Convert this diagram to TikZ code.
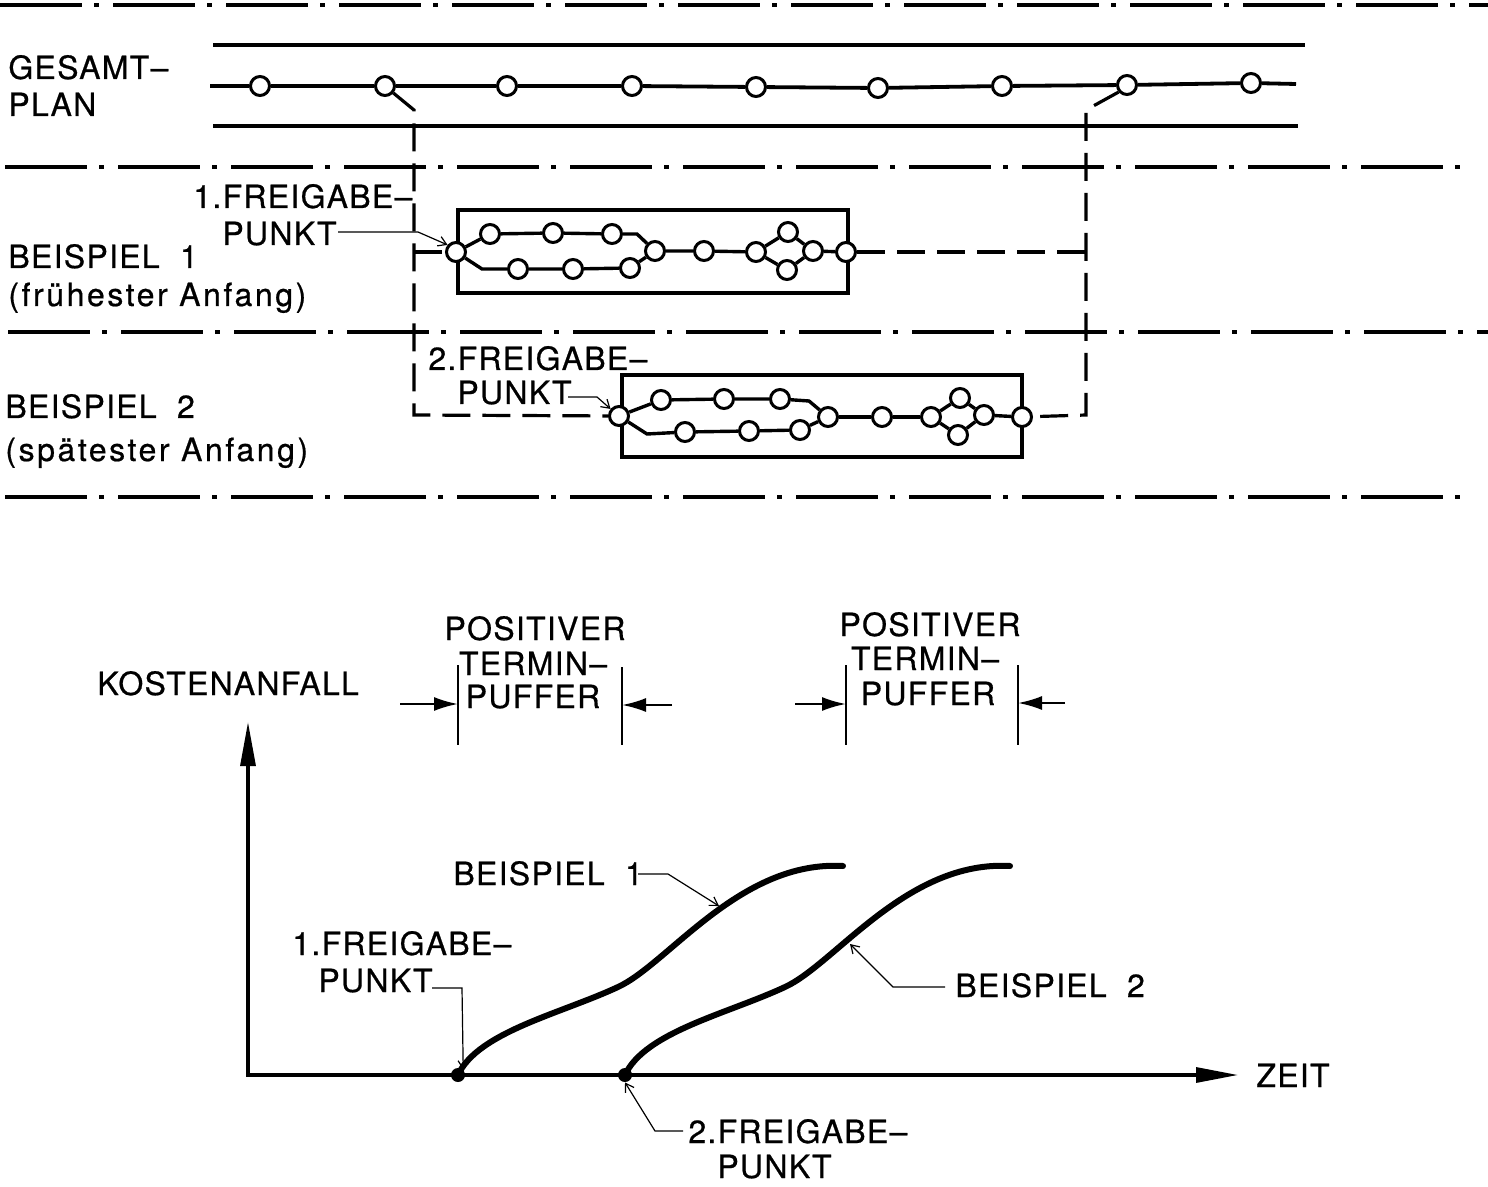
\documentclass[tikz,border=0pt]{standalone}
\usepackage{fontspec}
\setmainfont{TeX Gyre Heros}[LetterSpace=4,FakeBold=0.6]
\usetikzlibrary{arrows.meta}
\begin{document}
\begin{tikzpicture}[x=0.5pt,y=-0.5pt,
  sep/.style={line width=1.6pt, dash pattern=on 41pt off 6pt on 2.5pt off 7pt},
  pnode/.style={circle, draw, line width=1.5pt, fill=white, inner sep=0pt, minimum size=9.5pt},
  net/.style={line width=1.7pt},
  frame/.style={line width=1.8pt},
  conn/.style={line width=1.6pt, dash pattern=on 14pt off 6pt},
  leadarr/.style={line width=0.6pt, -{Straight Barb[length=4pt,width=5pt]}},
  lbl/.style={font=\fontsize{16pt}{19pt}\selectfont, inner sep=0pt, anchor=base west},
  wide/.style={font=\fontsize{16pt}{19pt}\selectfont\addfontfeatures{LetterSpace=8}},
  dot/.style={circle, fill, inner sep=0pt, minimum size=7pt},
  tick/.style={line width=0.7pt},
  parr/.style={line width=1.1pt, -{Latex[length=12pt,width=7pt]}},
  curve/.style={line width=3pt, line cap=round}
]
\useasboundingbox (0,0) rectangle (1488,1187);

% separator lines
\draw[sep] (0,5) -- (1488,5);
\draw[sep] (5,167) -- (1468,167);
\draw[sep] (8,332) -- (1488,332);
\draw[sep] (5,497) -- (1462,497);

% Gesamtplan
\draw[line width=2pt] (213,45) -- (1305,45);
\draw[line width=2pt] (213,126) -- (1298,126);
\coordinate (gL) at (210,86);
\coordinate (gR) at (1296,84);
\foreach \i/\x/\y in {1/260/86,2/385/86,3/507/86,4/632/86,5/756/87,6/878/88,7/1002/86,8/1127/85,9/1251/83}
  \node[pnode] (g\i) at (\x,\y) {};
\draw[net, line width=1.9pt] (gL) -- (g1) -- (g2) -- (g3) -- (g4) -- (g5) -- (g6) -- (g7) -- (g8) -- (g9) -- (gR);

\node[lbl] (tGes) at (8,79) {GESAMT–};
\node[lbl] (tPlan) at (8,116) {PLAN};

% Beispiel 1 network
\draw[frame] (458,210) rectangle (848,293);
\node[pnode] (a0) at (456,252) {};
\node[pnode] (a1) at (490,234) {};
\node[pnode] (a2) at (553,233) {};
\node[pnode] (a3) at (612,234) {};
\coordinate (ab1) at (637,234);
\coordinate (ab2) at (482,269);
\node[pnode] (a4) at (518,269) {};
\node[pnode] (a5) at (573,269) {};
\node[pnode] (a6) at (630,268) {};
\node[pnode] (am) at (655,251) {};
\node[pnode] (a7) at (704,251) {};
\node[pnode] (a8) at (756,252) {};
\node[pnode] (a9) at (788,232) {};
\node[pnode] (a10) at (787,270) {};
\node[pnode] (a11) at (813,251) {};
\node[pnode] (ae) at (846,252) {};
\draw[net] (a0) -- (a1) -- (a2) -- (a3) -- (ab1) -- (am);
\draw[net] (a0) -- (ab2) -- (a4) -- (a5) -- (a6) -- (am);
\draw[net] (am) -- (a7) -- (a8);
\draw[net] (a8) -- (a9) -- (a11);
\draw[net] (a8) -- (a10) -- (a11);
\draw[net] (a11) -- (ae);

% Beispiel 2 network
\draw[frame] (622,375) rectangle (1022,457);
\node[pnode] (b0) at (619,416) {};
\node[pnode] (b1) at (661,400) {};
\node[pnode] (b2) at (724,399) {};
\node[pnode] (b3) at (780,399) {};
\coordinate (bb1) at (809,401);
\coordinate (bb2) at (647,434);
\node[pnode] (b4) at (685,432) {};
\node[pnode] (b5) at (749,431) {};
\node[pnode] (b6) at (800,430) {};
\node[pnode] (bm) at (828,417) {};
\node[pnode] (b7) at (882,417) {};
\node[pnode] (b8) at (931,417) {};
\node[pnode] (b9) at (960,398) {};
\node[pnode] (b10) at (958,435) {};
\node[pnode] (b11) at (984,415) {};
\node[pnode] (be) at (1022,417) {};
\draw[net] (b0) -- (b1) -- (b2) -- (b3) -- (bb1) -- (bm);
\draw[net] (b0) -- (bb2) -- (b4) -- (b5) -- (b6) -- (bm);
\draw[net] (bm) -- (b7) -- (b8);
\draw[net] (b8) -- (b9) -- (b11);
\draw[net] (b8) -- (b10) -- (b11);
\draw[net] (b11) -- (be);

% dashed release connectors
\coordinate (cL1) at (414,110);
\coordinate (cL2) at (414,252);
\coordinate (cL3) at (414,415);
\coordinate (cR1) at (1086,110);
\coordinate (cR2) at (1086,252);
\coordinate (cR3) at (1086,415);
\draw[conn] (g2.-40) -- (cL1) -- (cL3) -- (b0);
\draw[conn] (cL2) -- (a0);
\draw[conn] (g8.-140) -- (cR1) -- (cR3) -- (be);
\draw[conn] (ae) -- (cR2);

% labels top part
\node[lbl] (tF1) at (193,208) {1.FREIGABE–};
\node[lbl] (tP1) at (222,245) {PUNKT};
\coordinate (l1a) at (338,232);
\coordinate (l1b) at (418,232);
\draw[leadarr] (l1a) -- (l1b) -- (a0.140);
\node[lbl] (tB1) at (8,268) {BEISPIEL\ \ 1};
\node[lbl, wide] (tB1b) at (8,306) {(frühester Anfang)};
\node[lbl] (tF2) at (428,370) {2.FREIGABE–};
\node[lbl] (tP2) at (457,404) {PUNKT};
\coordinate (l2a) at (568,397);
\coordinate (l2b) at (597,397);
\draw[leadarr] (l2a) -- (l2b) -- (b0.140);
\node[lbl] (tB2) at (5,418) {BEISPIEL\ \ 2};
\node[lbl, wide] (tB2b) at (5,461) {(spätester Anfang)};

% lower chart
\node[lbl] (tKost) at (97,695) {KOSTENANFALL};
\coordinate (yTop) at (248,722);
\coordinate (O) at (248,1075);
\coordinate (xEnd) at (1238,1075);
\draw[line width=1.6pt, {Triangle[length=22pt,width=7.5pt]}-{Triangle[length=21pt,width=7.5pt]}] (yTop) -- (O) -- (xEnd);
\node[lbl] (tZeit) at (1256,1087) {ZEIT};

% Termin-Puffer 1
\node[lbl, anchor=base] (tPos1) at (535,640) {POSITIVER};
\node[lbl, anchor=base] (tTer1) at (533,675) {TERMIN–};
\node[lbl, anchor=base] (tPuf1) at (533,708) {PUFFER};
\coordinate (p1t) at (458,665);
\coordinate (p1b) at (458,745);
\coordinate (p2t) at (622,667);
\coordinate (p2b) at (622,745);
\draw[tick] (p1t) -- (p1b);
\draw[tick] (p2t) -- (p2b);
\coordinate (p1a) at (400,704);
\coordinate (p1e) at (458,704);
\coordinate (p2a) at (672,705);
\coordinate (p2e) at (622,705);
\draw[parr] (p1a) -- (p1e);
\draw[parr] (p2a) -- (p2e);

% Termin-Puffer 2
\node[lbl, anchor=base] (tPos2) at (930,636) {POSITIVER};
\node[lbl, anchor=base] (tTer2) at (925,670) {TERMIN–};
\node[lbl, anchor=base] (tPuf2) at (928,705) {PUFFER};
\coordinate (q1t) at (846,665);
\coordinate (q1b) at (846,745);
\coordinate (q2t) at (1018,665);
\coordinate (q2b) at (1018,745);
\draw[tick] (q1t) -- (q1b);
\draw[tick] (q2t) -- (q2b);
\coordinate (q1a) at (795,704);
\coordinate (q1e) at (846,704);
\coordinate (q2a) at (1065,703);
\coordinate (q2e) at (1018,703);
\draw[parr] (q1a) -- (q1e);
\draw[parr] (q2a) -- (q2e);

% curves
\node[dot] (d1) at (458,1075) {};
\node[dot] (d2) at (625,1075) {};
\draw[curve] (d1.center) .. controls (478,1032) and (560,1014) .. (618,987)
  .. controls (668,964) and (740,860) .. (843,866);
\draw[curve] (d2.center) .. controls (645,1032) and (727,1014) .. (785,987)
  .. controls (835,964) and (907,860) .. (1010,866);

% curve labels
\node[lbl] (tC1) at (453,885) {BEISPIEL\ \ 1};
\coordinate (k1a) at (638,874);
\coordinate (k1b) at (668,874);
\coordinate (k1) at (719,906);
\draw[leadarr] (k1a) -- (k1b) -- (k1);
\node[lbl] (tC2) at (955,997) {BEISPIEL\ \ 2};
\coordinate (k2a) at (945,987);
\coordinate (k2b) at (893,987);
\coordinate (k2) at (850,944);
\draw[leadarr] (k2a) -- (k2b) -- (k2);

\node[lbl] (tF3) at (292,955) {1.FREIGABE–};
\node[lbl] (tP3) at (318,992) {PUNKT};
\coordinate (f1a) at (432,988);
\coordinate (f1b) at (462,988);
\draw[leadarr] (f1a) -- (f1b) -- (d1.north east);
\node[lbl] (tF4) at (688,1143) {2.FREIGABE–};
\node[lbl] (tP4) at (717,1178) {PUNKT};
\coordinate (f2a) at (683,1131);
\coordinate (f2b) at (655,1131);
\draw[leadarr] (f2a) -- (f2b) -- (d2.south);
\end{tikzpicture}
\end{document}
